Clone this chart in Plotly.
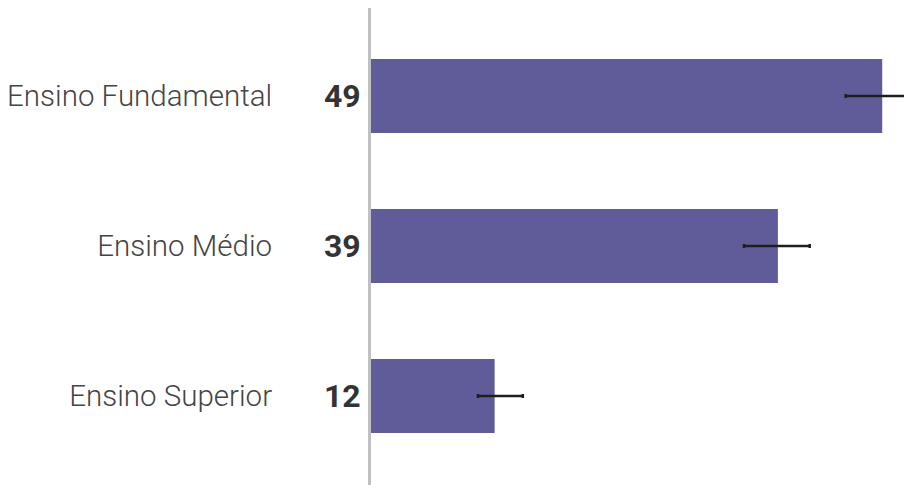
import plotly.graph_objects as go

categories = ["Ensino Fundamental", "Ensino Médio", "Ensino Superior"]
values = [49.0, 39.0, 11.85]
value_labels = ["49", "39", "12"]
err_plus = [3.6, 3.05, 2.7]
err_minus = [3.5, 3.25, 1.6]

BAR_COLOR = "#605c99"

fig = go.Figure()
fig.add_trace(go.Bar(
    x=values,
    y=categories,
    orientation="h",
    marker=dict(color=BAR_COLOR, line=dict(width=0)),
    width=0.493,
    error_x=dict(type="data", symmetric=False, array=err_plus, arrayminus=err_minus,
                 color="#1e1e1e", thickness=2.5, width=2),
    hoverinfo="skip",
))

for cat, lab in zip(categories, value_labels):
    fig.add_annotation(x=0, y=cat, xref="x", yref="y", text=f"<b>{lab}</b>",
                       showarrow=False, xanchor="right", yanchor="middle", xshift=-8,
                       font=dict(family="Roboto", size=32, color="#333333"))

fig.update_layout(
    width=912, height=485,
    margin=dict(l=363, r=0, t=0, b=0, autoexpand=False),
    paper_bgcolor="white", plot_bgcolor="white",
    showlegend=False,
    xaxis=dict(range=[0, 52.62], visible=False, showgrid=False, zeroline=False,
               automargin=False),
    yaxis=dict(
        type="category",
        categoryorder="array", categoryarray=categories,
        range=[2.647, -0.587],
        automargin=False,
        showgrid=False, zeroline=False,
        showline=True, linecolor="#c0c0c0", linewidth=3,
        ticks="", ticklabelstandoff=90,
        tickfont=dict(family="Roboto", size=29.5, color="#444444", weight=300),
    ),
)

fig.write_html("out.html")
